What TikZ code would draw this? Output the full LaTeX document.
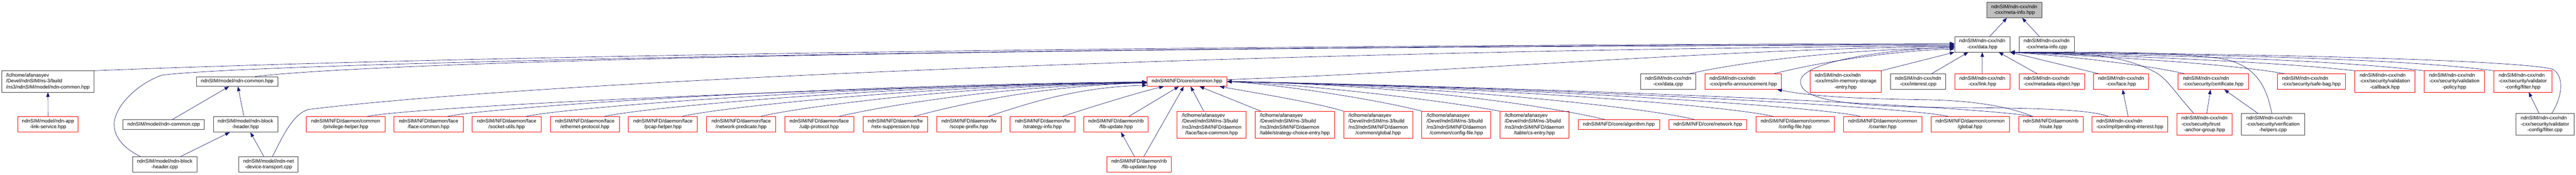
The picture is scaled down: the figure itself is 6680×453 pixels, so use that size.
\documentclass[tikz,border=0pt]{standalone}
\usepackage{fontspec}
\setmainfont{Liberation Sans}
\usetikzlibrary{arrows.meta}
\definecolor{navyc}{HTML}{191970}
\definecolor{nodered}{HTML}{FF0000}
\definecolor{nodegray}{HTML}{404040}
\definecolor{rootfill}{HTML}{BFBFBF}
\newcommand{\nfont}{\fontsize{13}{15.3}\selectfont}
\newcommand{\lbx}[1]{\begin{tabular}{@{}l@{}}#1\end{tabular}}
\newcommand{\lastc}[1]{\multicolumn{1}{@{}c@{}}{#1}}
\tikzset{
  nb/.style={draw=nodegray, line width=1pt, rectangle, inner sep=0pt, font=\nfont, text=black},
  nr/.style={nb, draw=nodered},
  sz/.style 2 args={minimum width=#1, minimum height=#2},
  lnk/.style={draw=navyc, line width=0.9pt},
  arr/.style={lnk, -{Triangle[length=12pt,width=9pt,fill=navyc]}},
}
\begin{document}
\begin{tikzpicture}[x=1pt,y=-1pt]
\fill[white] (0,0) rectangle (6680,453);
\useasboundingbox (0,0) rectangle (6680,453);
% ---- root and level 2
\node[nb, fill=rootfill, sz={143.2}{40}] (metainfo) at (5223.4,26) {\lbx{ndnSIM/ndn-cxx/ndn\\ \lastc{-cxx/meta-info.hpp}}};
\node[nb, sz={143.4}{40}] (data) at (5140.3,115) {\lbx{ndnSIM/ndn-cxx/ndn\\ \lastc{-cxx/data.hpp}}};
\node[nb, sz={142.9}{40}] (metainfocpp) at (5307.2,115) {\lbx{ndnSIM/ndn-cxx/ndn\\ \lastc{-cxx/meta-info.cpp}}};
% ---- left cluster
\node[nb, sz={239.4}{55}] (n1) at (124.3,211.5) {\lbx{/lclhome/afanasyev\\ /Devel/ndnSIM/ns-3/build\\ \lastc{/ns3/ndnSIM/model/ndn-common.hpp}}};
\node[nr, sz={156}{40}] (n2) at (124.5,323) {\lbx{ndnSIM/model/ndn-app\\ \lastc{-link-service.hpp}}};
\node[nb, sz={211}{25}] (n3) at (424.5,323.5) {ndnSIM/model/ndn-common.cpp};
\node[nb, sz={167}{40}] (n4) at (427,427) {\lbx{ndnSIM/model/ndn-block\\ \lastc{-header.cpp}}};
\node[nb, sz={211}{25}] (n5) at (615,211.5) {ndnSIM/model/ndn-common.hpp};
\node[nb, sz={167}{40}] (n6) at (636.5,323) {\lbx{ndnSIM/model/ndn-block\\ \lastc{-header.hpp}}};
\node[nb, sz={153.6}{40}] (n7) at (696.4,427) {\lbx{ndnSIM/model/ndn-net\\ \lastc{-device-transport.cpp}}};
% ---- NFD level 4
\node[nr, sz={203.6}{40}] (n8) at (896.4,323) {\lbx{ndnSIM/NFD/daemon/common\\ \lastc{/privilege-helper.hpp}}};
\node[nr, sz={179.2}{40}] (n9) at (1111.4,323) {\lbx{ndnSIM/NFD/daemon/face\\ \lastc{/face-common.hpp}}};
\node[nr, sz={179}{40}] (n10) at (1313.8,323) {\lbx{ndnSIM/NFD/daemon/face\\ \lastc{/socket-utils.hpp}}};
\node[nr, sz={179.4}{40}] (n11) at (1516.7,323) {\lbx{ndnSIM/NFD/daemon/face\\ \lastc{/ethernet-protocol.hpp}}};
\node[nr, sz={179}{40}] (n12) at (1719.1,323) {\lbx{ndnSIM/NFD/daemon/face\\ \lastc{/pcap-helper.hpp}}};
\node[nr, sz={179}{40}] (n13) at (1922,323) {\lbx{ndnSIM/NFD/daemon/face\\ \lastc{/network-predicate.hpp}}};
\node[nr, sz={179.3}{40}] (n14) at (2124.3,323) {\lbx{ndnSIM/NFD/daemon/face\\ \lastc{/udp-protocol.hpp}}};
\node[nr, sz={167.2}{40}] (n15) at (2321.8,323) {\lbx{ndnSIM/NFD/daemon/fw\\ \lastc{/retx-suppression.hpp}}};
\node[nr, sz={167.5}{40}] (n16) at (2512.7,323) {\lbx{ndnSIM/NFD/daemon/fw\\ \lastc{/scope-prefix.hpp}}};
\node[nr, sz={167.2}{40}] (n17) at (2703.2,323) {\lbx{ndnSIM/NFD/daemon/fw\\ \lastc{/strategy-info.hpp}}};
\node[nr, sz={166.8}{40}] (n18) at (2894.1,323) {\lbx{ndnSIM/NFD/daemon/rib\\ \lastc{/fib-update.hpp}}};
\node[nr, sz={166.7}{40}] (n19) at (2953.8,427) {\lbx{ndnSIM/NFD/daemon/rib\\ \lastc{/fib-updater.hpp}}};
\node[nr, sz={207.1}{25}] (core) at (3077.9,211.5) {ndnSIM/NFD/core/common.hpp};
\node[nr, sz={179}{69}] (n20) at (3142,323.5) {\lbx{/lclhome/afanasyev\\ /Devel/ndnSIM/ns-3/build\\ /ns3/ndnSIM/NFD/daemon\\ \lastc{/face/face-common.hpp}}};
\node[nr, sz={206.1}{69}] (n21) at (3357.7,323.5) {\lbx{/lclhome/afanasyev\\ /Devel/ndnSIM/ns-3/build\\ /ns3/ndnSIM/NFD/daemon\\ \lastc{/table/strategy-choice-entry.hpp}}};
\node[nr, sz={179}{69}] (n22) at (3573.8,323.5) {\lbx{/lclhome/afanasyev\\ /Devel/ndnSIM/ns-3/build\\ /ns3/ndnSIM/NFD/daemon\\ \lastc{/common/global.hpp}}};
\node[nr, sz={179}{69}] (n23) at (3776.6,323.5) {\lbx{/lclhome/afanasyev\\ /Devel/ndnSIM/ns-3/build\\ /ns3/ndnSIM/NFD/daemon\\ \lastc{/common/config-file.hpp}}};
\node[nr, sz={179.3}{69}] (n24) at (3979,323.5) {\lbx{/lclhome/afanasyev\\ /Devel/ndnSIM/ns-3/build\\ /ns3/ndnSIM/NFD/daemon\\ \lastc{/table/cs-entry.hpp}}};
\node[nr, sz={210.7}{25}] (n25) at (4197.9,323.5) {ndnSIM/NFD/core/algorithm.hpp};
\node[nr, sz={202.9}{25}] (n26) at (4428.6,323.5) {ndnSIM/NFD/core/network.hpp};
\node[nr, sz={203.6}{40}] (n27) at (4655,323) {\lbx{ndnSIM/NFD/daemon/common\\ \lastc{/config-file.hpp}}};
\node[nr, sz={203.2}{40}] (n28) at (4882,323) {\lbx{ndnSIM/NFD/daemon/common\\ \lastc{/counter.hpp}}};
\node[nr, sz={203.3}{40}] (n29) at (5108.8,323) {\lbx{ndnSIM/NFD/daemon/common\\ \lastc{/global.hpp}}};
\node[nr, sz={167.5}{40}] (route) at (5318,323) {\lbx{ndnSIM/NFD/daemon/rib\\ \lastc{/route.hpp}}};
\node[nr, sz={196.8}{40}] (pending) at (5523,323) {\lbx{ndnSIM/ndn-cxx/ndn\\ \lastc{-cxx/impl/pending-interest.hpp}}};
\node[nr, sz={143.6}{56}] (trust) at (5716.4,323) {\lbx{ndnSIM/ndn-cxx/ndn\\ -cxx/security/trust\\ \lastc{-anchor-group.hpp}}};
\node[nb, sz={164.6}{56}] (verif) at (5894.1,323) {\lbx{ndnSIM/ndn-cxx/ndn\\ -cxx/security/verification\\ \lastc{-helpers.cpp}}};
\node[nb, sz={150.8}{56}] (filtercpp) at (6599.4,323) {\lbx{ndnSIM/ndn-cxx/ndn\\ -cxx/security/validator\\ \lastc{-config/filter.cpp}}};
% ---- ndn-cxx level 3
\node[nb, sz={142.8}{40}] (datacpp) at (4325.7,212) {\lbx{ndnSIM/ndn-cxx/ndn\\ \lastc{-cxx/data.cpp}}};
\node[nr, sz={197.5}{40}] (prefix) at (4520.5,212) {\lbx{ndnSIM/ndn-cxx/ndn\\ \lastc{-cxx/prefix-announcement.hpp}}};
\node[nr, sz={184.6}{55}] (ims) at (4785.9,211.5) {\lbx{ndnSIM/ndn-cxx/ndn\\ -cxx/ims/in-memory-storage\\ \lastc{-entry.hpp}}};
\node[nb, sz={142.9}{40}] (interestcpp) at (4974,212) {\lbx{ndnSIM/ndn-cxx/ndn\\ \lastc{-cxx/interest.cpp}}};
\node[nr, sz={143.5}{40}] (link) at (5140.4,212) {\lbx{ndnSIM/ndn-cxx/ndn\\ \lastc{-cxx/link.hpp}}};
\node[nr, sz={169.7}{40}] (metadata) at (5320.6,212) {\lbx{ndnSIM/ndn-cxx/ndn\\ \lastc{-cxx/metadata-object.hpp}}};
\node[nr, sz={143.2}{40}] (face) at (5500.5,212) {\lbx{ndnSIM/ndn-cxx/ndn\\ \lastc{-cxx/face.hpp}}};
\node[nr, sz={182.8}{40}] (certificate) at (5739.3,212) {\lbx{ndnSIM/ndn-cxx/ndn\\ \lastc{-cxx/security/certificate.hpp}}};
\node[nr, sz={176.4}{40}] (safebag) at (5993.9,212) {\lbx{ndnSIM/ndn-cxx/ndn\\ \lastc{-cxx/security/safe-bag.hpp}}};
\node[nr, sz={155.8}{55}] (valcallback) at (6184.3,211.5) {\lbx{ndnSIM/ndn-cxx/ndn\\ -cxx/security/validation\\ \lastc{-callback.hpp}}};
\node[nr, sz={156}{55}] (valpolicy) at (6364.3,211.5) {\lbx{ndnSIM/ndn-cxx/ndn\\ -cxx/security/validation\\ \lastc{-policy.hpp}}};
\node[nr, sz={150.9}{55}] (filterhpp) at (6541.9,211.5) {\lbx{ndnSIM/ndn-cxx/ndn\\ -cxx/security/validator\\ \lastc{-config/filter.hpp}}};
% ================= edges
% root
\draw[arr] ([xshift=19.3pt]data.north) -- ([xshift=-19.1pt]metainfo.south);
\draw[arr] ([xshift=-19pt]metainfocpp.north) -- ([xshift=20.2pt]metainfo.south);
% left cluster
\draw[arr] (n2.north) -- (n1.south);
\draw[arr] ([xshift=21.9pt]n3.north) -- ([xshift=-21pt]n5.south);
\draw[arr] ([xshift=40.9pt]n4.north) -- ([xshift=-40.8pt]n6.south);
\draw[arr] ([xshift=-4pt]n6.north) -- ([xshift=2pt]n5.south);
\draw[arr] ([xshift=-12.1pt]n7.north) -- ([xshift=12.8pt]n6.south);
\draw[arr] ([xshift=10pt]n7.north) .. controls (735,350) and (760,296) .. (800,284) .. controls (1500,200) and (3500,128) .. ([yshift=-4pt]data.west);
\draw[arr] (n1.north east) .. controls (1200,145) and (3000,118) .. ([yshift=2pt]data.west);
\draw[arr] ([xshift=-62pt]n4.north) .. controls (320,385) and (296,355) .. (296,323) .. controls (296,280) and (350,220) .. (420,195) .. controls (700,160) and (3000,118) .. (data.west);
\draw[arr] ([xshift=46.8pt]n5.north) .. controls (1000,160) and (2500,122) .. ([yshift=-2pt]data.west);
% core to data and ndn-cxx level 3
\draw[arr] ([yshift=4.8pt]core.east) .. controls (3800,185) and (4500,125) .. ([yshift=-6pt]data.west);
\draw[arr] ([xshift=55pt]datacpp.north) .. controls (4450,175) and (4700,130) .. ([yshift=-9pt]data.west);
\draw[arr] ([xshift=79.1pt]prefix.north) .. controls (4700,165) and (4900,132) .. ([yshift=-12pt]data.west);
\draw[arr] (ims.north east) -- (data.south west);
\draw[arr] ([xshift=34.6pt]interestcpp.north) -- ([xshift=-36.3pt]data.south);
\draw[arr] (link.north) -- (data.south);
\draw[arr] ([xshift=-37.7pt]metadata.north) -- ([xshift=42.6pt]data.south);
\draw[arr] ([xshift=-57.6pt]face.north) -- (data.south east);
% pending interest
\draw[arr] ([xshift=-54.4pt]pending.north) .. controls (5420,285) and (5300,280) .. (5040,279) .. controls (4800,276) and (4669,262) .. (4669,212) .. controls (4669,165) and (4850,132) .. ([yshift=-7pt]data.west);
\draw[arr] ([xshift=-4.4pt]pending.north) -- ([xshift=3.8pt]face.south);
% route
\draw[arr] ([xshift=-46pt]route.north) .. controls (5230,285) and (5150,262) .. (5000,259) .. controls (4800,256) and (4700,250) .. ([xshift=88.1pt]prefix.south);
\draw[arr] ([xshift=-46pt]route.north) .. controls (5150,278) and (4200,232) .. (core.east);
% right cluster
\draw[arr] ([xshift=18.1pt]certificate.north west) .. controls (5600,175) and (5400,148) .. (data.south east);
\draw[arr] ([xshift=-68.9pt]safebag.north) .. controls (5800,168) and (5500,148) .. (data.south east);
\draw[arr] (valcallback.north west) .. controls (5900,160) and (5500,145) .. (data.south east);
\draw[arr] (valpolicy.north west) .. controls (6000,150) and (5500,142) .. (data.south east);
\draw[arr] (filterhpp.north west) .. controls (6200,148) and (5600,140) .. (data.south east);
\draw[arr] ([xshift=17.6pt]filtercpp.north) .. controls (6645,250) and (6650,198) .. (6620,180) .. controls (6560,160) and (6000,140) .. (data.south east);
\draw[arr] ([xshift=-27.4pt]trust.north) .. controls (5640,240) and (5620,205) .. (5590,188) .. controls (5500,140) and (5400,138) .. (data.south east);
\draw[arr] ([xshift=-3pt]verif.north) .. controls (5878,225) and (5850,168) .. (5760,152) .. controls (5600,132) and (5400,135) .. (data.south east);
\draw[arr] ([xshift=6.1pt]trust.north) -- ([xshift=-7.2pt]certificate.south);
\draw[arr] ([xshift=-38.7pt]verif.north) -- ([xshift=28.6pt]certificate.south);
\draw[arr] ([xshift=-15.2pt]filtercpp.north) -- ([xshift=15.5pt]filterhpp.south);
% NFD bottom into core
\draw[arr] ([xshift=-11.8pt]n19.north) -- ([xshift=12.9pt]n18.south);
\draw[arr] ([xshift=12.2pt]n19.north) -- ([xshift=-8.3pt]core.south);
\draw[arr] ([xshift=32.7pt]n18.north) -- ([xshift=-20.9pt]core.south);
\draw[arr] ([xshift=-20.6pt]n20.north) -- ([xshift=9.6pt]core.south);
\draw[arr] ([xshift=-88.1pt]n21.north) -- ([xshift=32.8pt]core.south);
\draw[arr] (n22.north west) .. controls (3420,268) and (3250,240) .. ([xshift=84.6pt]core.south);
% NFD right into core
\draw[arr] (n23.north west) .. controls (3600,265) and (3350,222) .. (core.east);
\draw[arr] (n24.north west) .. controls (3750,262) and (3400,220) .. (core.east);
\draw[arr] ([xshift=-35pt]n25.north) .. controls (4060,285) and (3700,222) .. (core.east);
\draw[arr] ([xshift=-33.6pt]n26.north) .. controls (4300,285) and (3800,224) .. (core.east);
\draw[arr] ([xshift=-55.4pt]n27.north) .. controls (4500,277) and (3900,226) .. (core.east);
\draw[arr] ([xshift=-55.6pt]n28.north) .. controls (4720,277) and (4000,228) .. (core.east);
\draw[arr] ([xshift=-54.5pt]n29.north) .. controls (4950,278) and (4100,230) .. (core.east);
% NFD left into core
\draw[arr] ([xshift=54.6pt]n8.north) .. controls (1050,280) and (2000,232) .. ([yshift=-1pt]core.west);
\draw[arr] ([xshift=47.6pt]n9.north) .. controls (1239,282) and (2067,222) .. ([yshift=-1pt]core.west);
\draw[arr] ([xshift=49.2pt]n10.north) .. controls (1443,282) and (2169,222) .. ([yshift=-2pt]core.west);
\draw[arr] ([xshift=49.3pt]n11.north) .. controls (1646,282) and (2270,222) .. ([yshift=-2pt]core.west);
\draw[arr] ([xshift=48.4pt]n12.north) .. controls (1847,282) and (2371,222) .. ([yshift=-3pt]core.west);
\draw[arr] ([xshift=49pt]n13.north) .. controls (2051,282) and (2473,222) .. ([yshift=-3pt]core.west);
\draw[arr] ([xshift=50.3pt]n14.north) .. controls (2255,283) and (2575,222) .. ([yshift=-4pt]core.west);
\draw[arr] ([xshift=46.8pt]n15.north) .. controls (2440,284) and (2672,222) .. ([yshift=-4pt]core.west);
\draw[arr] ([xshift=48.7pt]n16.north) .. controls (2620,285) and (2770,226) .. ([yshift=-10pt]core.west);
\draw[arr] ([xshift=51.1pt]n17.north) .. controls (2800,287) and (2950,240) .. ([xshift=-60pt]core.south);
\end{tikzpicture}
\end{document}
